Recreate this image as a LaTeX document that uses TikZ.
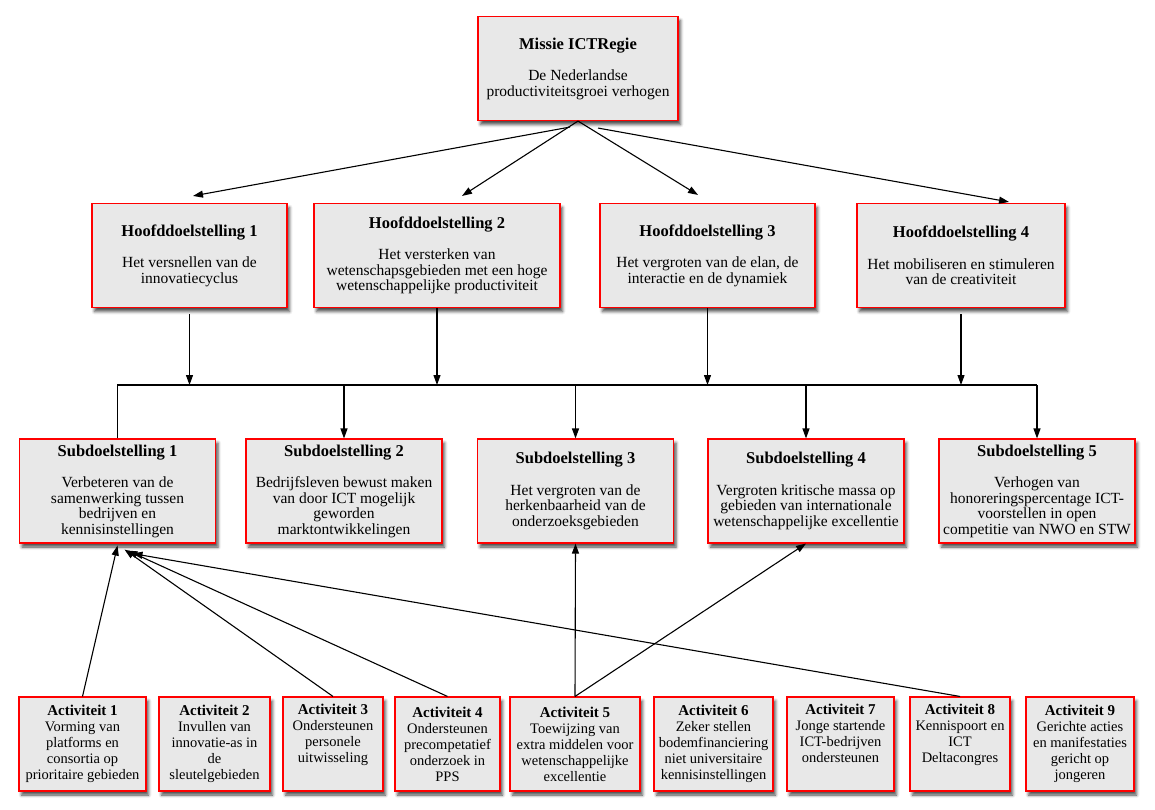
\documentclass[tikz,border=0pt]{standalone}
\usepackage{fontspec}
\setmainfont{Liberation Serif}
\usetikzlibrary{arrows.meta,calc,shadows.blur}
\definecolor{boxgray}{HTML}{E8E8E8}
\definecolor{boxred}{HTML}{FF0000}
\newcommand\boxtitle[1]{{\fontsize{16.5}{16}\selectfont\bfseries #1}}
\newcommand\acttitle[1]{{\fontsize{15}{16}\selectfont\bfseries #1}}

\begin{document}
\begin{tikzpicture}[x=1pt, y=-1pt, line width=1.1pt,
  box/.style={draw=boxred, fill=boxgray, line width=1.1pt, align=center, inner sep=2pt,
    blur shadow={shadow xshift=2.5pt, shadow yshift=-4pt, shadow blur radius=3pt, shadow opacity=70}},
  goal/.style={box, minimum width=#1, minimum height=104pt, font=\fontsize{15.5}{15.5}\selectfont},
  act/.style={box, minimum width=#1, minimum height=94pt, font=\fontsize{14.5}{16}\selectfont},
  arr/.style={-{Triangle[length=10pt,width=7pt]}}]
\useasboundingbox (0,0) rectangle (1155,810);

% mission
\node[goal=200pt] (missie) at (578,68.5) {\boxtitle{Missie ICTRegie}\\[16pt]De Nederlandse\\productiviteitsgroei verhogen};

% main goals
\foreach \i/\x/\w/\txt in {
  1/189.5/195/{Het versnellen van de\\innovatiecyclus},
  2/437/246/{Het versterken van\\wetenschapsgebieden met een hoge\\wetenschappelijke productiviteit},
  3/707.5/215/{Het vergroten van de elan, de\\interactie en de dynamiek},
  4/961/208/{Het mobiliseren en stimuleren\\van de creativiteit}}
  \node[goal=\w pt] (h\i) at (\x,255.5) {\boxtitle{Hoofddoelstelling \i}\\[16pt]\txt};

% sub goals
\foreach \i/\x/\txt in {
  1/117.5/{Verbeteren van de\\samenwerking tussen\\bedrijven en\\kennisinstellingen},
  2/344/{Bedrijfsleven bewust maken\\van door ICT mogelijk\\geworden\\marktontwikkelingen},
  3/575.5/{Het vergroten van de\\herkenbaarheid van de\\onderzoeksgebieden},
  4/806/{Vergroten kritische massa op\\gebieden van internationale\\wetenschappelijke excellentie},
  5/1037/{Verhogen van\\honoreringspercentage ICT-\\voorstellen in open\\competitie van NWO en STW}}
  \node[goal=196pt] (s\i) at (\x,491) {\boxtitle{Subdoelstelling \i}\\[16pt]\txt};

% activities
\foreach \i/\x/\w/\txt in {
  1/82.5/127/{Vorming van\\platforms en\\consortia op\\prioritaire gebieden},
  2/214.5/111/{Invullen van\\innovatie-as in\\de\\sleutelgebieden},
  3/333/100/{Ondersteunen\\personele\\uitwisseling\\\strut},
  4/447.5/105/{Ondersteunen\\precompetatief\\onderzoek in\\PPS},
  5/575/130/{Toewijzing van\\extra middelen voor\\wetenschappelijke\\excellentie},
  6/713.5/119/{Zeker stellen\\bodemfinanciering\\niet universitaire\\kennisinstellingen},
  7/840.5/107/{Jonge startende\\ICT-bedrijven\\ondersteunen\\\strut},
  8/960/100/{Kennispoort en\\ICT\\Deltacongres\\\strut},
  9/1080/108/{Gerichte acties\\en manifestaties\\gericht op\\jongeren}}
  \node[act=\w pt] (a\i) at (\x,744) {\acttitle{Activiteit \i}\\\txt};

% mission to main goals
\draw[arr] ([xshift=-8pt,yshift=-6pt]missie.south) -- ([xshift=3.5pt,yshift=7pt]h1.north);
\draw[arr] (missie.south) -- ([xshift=25pt,yshift=7pt]h2.north);
\draw[arr] (missie.south) -- ([xshift=-9.5pt,yshift=8pt]h3.north);
\draw[arr] ([xshift=20pt,yshift=-7pt]missie.south) -- ([xshift=48pt,yshift=1pt]h4.north);

% main goals to the bar
\coordinate (bar) at (0,385);
\foreach \i/\d in {1/6,2/0,3/0,4/6}
  \draw[arr] ([yshift=-\d pt]h\i.south) -- (h\i.south |- bar);

% bar to sub goals
\draw (s1.north) -- (s1.north |- bar) -- (s5.north |- bar);
\foreach \i in {2,...,5}
  \draw[arr] (s\i.north |- bar) -- (s\i.north);

% activities to sub goals
\draw[arr] (a1.north) -- ([yshift=-2pt]s1.south);
\draw[arr] (a3.north) -- ([xshift=7pt,yshift=-6pt]s1.south);
\draw[arr] (a4.north) -- ([xshift=10pt,yshift=-7pt]s1.south);
\draw[arr] (a8.north) -- ([xshift=15pt,yshift=-10pt]s1.south);
\draw[arr] (a5.north) -- (s3.south);
\draw[arr] (a5.north) -- (s4.south);
\end{tikzpicture}
\end{document}
